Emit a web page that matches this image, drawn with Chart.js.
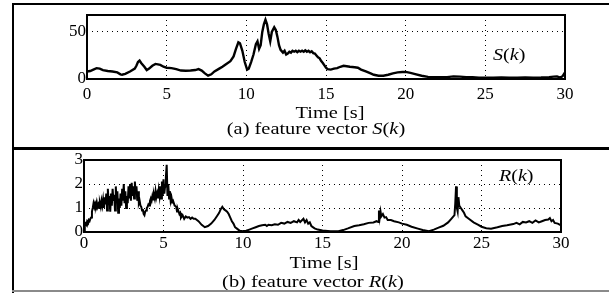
<!DOCTYPE html>
<html>
<head>
<meta charset="utf-8">
<script src="https://cdn.jsdelivr.net/npm/chart.js@4.4.1/dist/chart.umd.min.js"></script>
<style>
    html, body { margin: 0; padding: 0; background: #fff; }
    #page { position: relative; width: 609px; height: 293px; overflow: hidden; font-family: "Liberation Serif", "Times New Roman", serif; color: #000; }
    canvas { position: absolute; left: 0; }
    .rule { position: absolute; background: #000; z-index: 2; }
    .caption { position: absolute; font-size: 17px; white-space: nowrap; transform: translateX(-50%) scaleX(1.2); line-height: 1; }
    .tag { position: absolute; font-size: 17px; white-space: nowrap; line-height: 1; transform: scaleX(1.18); transform-origin: left center; }
    i { font-style: italic; }
</style>
</head>
<body>
<div id="page">
    <canvas id="chartS" width="609" height="148" style="top:0"></canvas>
    <canvas id="chartR" width="609" height="145" style="top:148px"></canvas>

    <div class="rule" style="left:12px; top:3px; width:597px; height:2px"></div>
    <div class="rule" style="left:12px; top:3px; width:2px; height:290px"></div>
    <div class="rule" style="left:12px; top:147px; width:597px; height:3px"></div>
    <div class="rule" style="left:12px; top:290px; width:597px; height:2px; background:#8a8a8a"></div>

    <div class="tag" style="left:493px; top:46px"><i>S</i>(<i>k</i>)</div>
    <div class="caption" style="left:330px; top:104px">Time [s]</div>
    <div class="caption" style="left:316px; top:120px">(a) feature vector <i>S</i>(<i>k</i>)</div>

    <div class="tag" style="left:499px; top:167px"><i>R</i>(<i>k</i>)</div>
    <div class="caption" style="left:324px; top:254px">Time [s]</div>
    <div class="caption" style="left:313px; top:273px">(b) feature vector <i>R</i>(<i>k</i>)</div>
</div>

<script>
// shared time axis
const xTicks = [0, 5, 10, 15, 20, 25, 30];

// (a) feature vector S(k)
const sTicks = [0, 50];
const sTime = [
    0.0, 0.2, 0.4, 0.6, 0.8, 1.0, 1.3, 1.6, 1.9, 2.1, 2.2, 2.4, 2.7, 3.0, 3.1, 3.2, 3.3, 3.4, 3.6, 3.75,
    3.9, 4.1, 4.3, 4.6, 4.8, 5.0, 5.3, 5.6, 5.9, 6.2, 6.5, 6.8, 7.0, 7.2, 7.4, 7.6, 7.8, 8.0, 8.3, 8.5,
    8.7, 9.0, 9.2, 9.35, 9.5, 9.6, 9.75, 9.9, 10.05, 10.15, 10.3, 10.45, 10.6, 10.7, 10.8, 10.9, 11.0, 11.1, 11.2, 11.3,
    11.4, 11.5, 11.6, 11.75, 11.85, 11.95, 12.05, 12.15, 12.3, 12.4, 12.5, 12.6, 12.7, 12.8, 12.9, 13.0, 13.1, 13.2, 13.3, 13.4,
    13.5, 13.6, 13.7, 13.8, 13.9, 14.0, 14.1, 14.2, 14.3, 14.4, 14.5, 14.6, 14.7, 14.8, 14.9, 15.0, 15.1, 15.3, 15.5, 15.7,
    15.9, 16.1, 16.3, 16.5, 16.8, 17.0, 17.2, 17.5, 17.8, 18.0, 18.3, 18.6, 18.9, 19.2, 19.5, 19.8, 20.0, 20.3, 20.6, 21.0,
    21.4, 21.8, 22.2, 22.6, 23.0, 23.4, 23.8, 24.2, 24.6, 25.0, 25.5, 26.0, 26.5, 27.0, 27.5, 28.0, 28.5, 29.0, 29.3, 29.5,
    29.7, 29.85, 30.0
];
const sVals = [
    8, 8.5, 10, 11.5, 11, 9.5, 8.5, 8, 7, 5, 4.5, 5.5, 8, 11, 14, 18, 19.5, 17, 13, 9.5,
    11, 14, 16, 15, 13, 12, 11.5, 10.5, 9, 8.8, 9, 9.5, 10.5, 9, 6, 3.5, 5, 8, 11, 13,
    15.5, 19, 24, 32, 39, 38, 30, 18, 10, 11, 18, 26, 37, 40, 32, 36, 50, 58, 63, 58,
    48, 40, 50, 55, 52, 45, 36, 31, 28, 30, 26, 27, 29, 28, 30, 29, 30, 28.5, 30, 29,
    30, 29, 30.5, 29, 30, 28.5, 29.5, 27.5, 27, 25, 23, 22, 19, 17, 14.5, 12, 10.5, 10, 11, 11.5,
    13, 14, 13.5, 13, 12.5, 12, 10, 8, 6, 4.5, 3.5, 3.5, 4.5, 6, 7, 7.5, 7.5, 6.5, 5.2, 3.5,
    2.2, 1.8, 2, 2, 2.8, 2.5, 2, 1.8, 1.4, 1.5, 1.4, 1.6, 1.5, 1.4, 1.6, 1.5, 1.6, 2, 2.5, 2.8,
    1.5, 3, 7
];

// (b) feature vector R(k)
const rTicks = [0, 1, 2, 3];
const rTime = [
    0.0, 0.05, 0.1, 0.15, 0.2, 0.25, 0.3, 0.35, 0.4, 0.45, 0.5, 0.55, 0.6, 0.65, 0.7, 0.75, 0.8, 0.85, 0.9, 0.95,
    1.0, 1.05, 1.1, 1.15, 1.2, 1.25, 1.3, 1.35, 1.4, 1.45, 1.5, 1.55, 1.6, 1.65, 1.7, 1.75, 1.8, 1.85, 1.9, 1.95,
    2.0, 2.05, 2.1, 2.15, 2.2, 2.25, 2.3, 2.35, 2.4, 2.45, 2.5, 2.55, 2.6, 2.65, 2.7, 2.75, 2.8, 2.85, 2.9, 2.95,
    3.0, 3.05, 3.1, 3.15, 3.2, 3.25, 3.3, 3.35, 3.4, 3.45, 3.5, 3.55, 3.6, 3.65, 3.7, 3.75, 3.8, 3.85, 3.9, 3.95,
    4.0, 4.05, 4.1, 4.15, 4.2, 4.25, 4.3, 4.35, 4.4, 4.45, 4.5, 4.55, 4.6, 4.65, 4.7, 4.75, 4.8, 4.85, 4.9, 4.95,
    5.0, 5.05, 5.1, 5.15, 5.2, 5.25, 5.3, 5.35, 5.4, 5.45, 5.5, 5.55, 5.6, 5.7, 5.8, 5.85, 5.9, 6.0, 6.05, 6.1,
    6.2, 6.3, 6.4, 6.5, 6.6, 6.7, 6.8, 6.9, 7.0, 7.2, 7.4, 7.6, 7.8, 8.0, 8.2, 8.4, 8.5, 8.6, 8.7, 8.8,
    8.9, 9.0, 9.1, 9.2, 9.3, 9.4, 9.5, 9.6, 9.7, 9.8, 10.0, 10.2, 10.4, 10.6, 10.8, 11.0, 11.2, 11.4, 11.5, 11.6,
    11.8, 12.0, 12.2, 12.4, 12.6, 12.8, 13.0, 13.2, 13.4, 13.5, 13.6, 13.8, 13.9, 14.0, 14.1, 14.2, 14.3, 14.5, 14.7, 15.0,
    15.5, 16.0, 16.3, 16.6, 17.0, 17.3, 17.6, 17.9, 18.2, 18.4, 18.5, 18.55, 18.6, 18.65, 18.7, 18.8, 18.9, 19.0, 19.1, 19.3,
    19.5, 19.8, 20.0, 20.3, 20.6, 21.0, 21.3, 21.7, 22.0, 22.3, 22.6, 22.9, 23.1, 23.3, 23.35, 23.4, 23.45, 23.5, 23.55, 23.6,
    23.7, 23.8, 23.9, 24.0, 24.2, 24.5, 24.8, 25.0, 25.3, 25.6, 26.0, 26.3, 26.6, 27.0, 27.2, 27.4, 27.6, 27.8, 28.0, 28.2,
    28.4, 28.6, 28.8, 29.0, 29.2, 29.3, 29.4, 29.5, 29.6, 29.8, 30.0
];
const rVals = [
    0.05, 0.25, 0.35, 0.3, 0.45, 0.4, 0.5, 0.45, 0.55, 0.6, 0.85, 1.0, 1.2, 1.05, 1.2, 1.1, 1.25, 1.05, 1.15, 1.0,
    1.2, 1.05, 1.3, 1.1, 1.35, 1.0, 1.45, 1.15, 1.6, 0.9, 1.8, 1.2, 1.5, 0.85, 1.6, 1.1, 1.8, 1.3, 1.55, 0.9,
    1.9, 1.2, 1.7, 0.8, 1.4, 1.0, 1.6, 1.1, 1.8, 1.3, 2.0, 1.2, 1.7, 1.0, 1.5, 1.2, 1.9, 1.4, 2.0, 1.3,
    2.05, 1.5, 1.9, 1.4, 2.1, 1.6, 1.9, 1.3, 1.7, 1.2, 1.3, 1.1, 1.05, 0.9, 0.95, 0.75, 0.7, 0.85, 0.9, 1.0,
    1.05, 1.15, 1.1, 1.3, 1.4, 1.3, 1.5, 1.35, 1.55, 1.4, 1.7, 1.45, 1.6, 1.4, 1.75, 1.5, 1.9, 1.4, 2.1, 1.5,
    2.2, 1.6, 1.9, 2.3, 2.8, 1.5, 2.0, 1.4, 1.7, 1.3, 1.45, 1.25, 1.3, 1.1, 1.05, 0.85, 0.95, 0.75, 0.8, 0.6,
    0.7, 0.55, 0.65, 0.6, 0.62, 0.55, 0.6, 0.55, 0.55, 0.45, 0.3, 0.2, 0.25, 0.35, 0.5, 0.7, 0.8, 0.95, 1.05, 0.95,
    0.9, 0.85, 0.75, 0.6, 0.45, 0.35, 0.2, 0.15, 0.1, 0.05, 0.03, 0.05, 0.1, 0.15, 0.2, 0.25, 0.28, 0.3, 0.25, 0.3,
    0.28, 0.32, 0.3, 0.38, 0.35, 0.42, 0.38, 0.45, 0.4, 0.5, 0.42, 0.55, 0.4, 0.5, 0.35, 0.4, 0.25, 0.15, 0.1, 0.06,
    0.03, 0.03, 0.08, 0.15, 0.25, 0.28, 0.32, 0.38, 0.4, 0.45, 0.42, 0.9, 0.6, 0.85, 0.65, 0.75, 0.6, 0.62, 0.5, 0.5,
    0.45, 0.4, 0.35, 0.3, 0.22, 0.14, 0.08, 0.03, 0.1, 0.18, 0.26, 0.4, 0.55, 0.7, 1.2, 1.9, 1.0, 0.85, 1.45, 1.1,
    1.0, 0.9, 0.8, 0.65, 0.55, 0.4, 0.3, 0.22, 0.16, 0.14, 0.2, 0.25, 0.28, 0.33, 0.38, 0.32, 0.42, 0.4, 0.45, 0.38,
    0.48, 0.4, 0.45, 0.5, 0.52, 0.58, 0.45, 0.5, 0.38, 0.35, 0.28
];

// black frame round the plot area
const frameBox = {
    id: 'frameBox',
    afterDraw(chart) {
        const { ctx, chartArea: a } = chart;
        ctx.save();
        ctx.strokeStyle = '#000';
        ctx.lineWidth = 2;
        ctx.strokeRect(a.left, a.top, a.right - a.left, a.bottom - a.top);
        ctx.restore();
    }
};

function makeChart(id, times, vals, yTicks, yMax, box) {
    const canvas = document.getElementById(id);
    const tickFont = { family: '"Liberation Serif", serif', size: 17 };
    return new Chart(canvas, {
        type: 'line',
        data: {
            datasets: [{
                data: times.map((t, i) => ({ x: t, y: vals[i] })),
                borderColor: '#000',
                borderWidth: box.line,
                pointRadius: 0,
                tension: 0,
                fill: false
            }]
        },
        options: {
            responsive: false,
            animation: false,
            events: [],
            layout: { padding: { top: box.top, right: canvas.width - box.right, left: 0, bottom: 0 } },
            plugins: { legend: { display: false }, tooltip: { enabled: false } },
            scales: {
                x: {
                    type: 'linear',
                    min: 0,
                    max: 30,
                    afterBuildTicks: s => { s.ticks = xTicks.map(v => ({ value: v })); },
                    afterFit: s => { s.height = canvas.height - box.bottom; },
                    ticks: { font: tickFont, color: '#000', padding: box.tickPad, maxRotation: 0, autoSkip: false },
                    grid: { color: '#000', lineWidth: 1, drawTicks: false },
                    border: { display: false, dash: [1, 4] }
                },
                y: {
                    min: 0,
                    max: yMax,
                    afterBuildTicks: s => { s.ticks = yTicks.map(v => ({ value: v })); },
                    afterFit: s => { s.width = box.left; },
                    ticks: { font: tickFont, color: '#000', padding: 1 },
                    grid: { color: '#000', lineWidth: 1, drawTicks: false },
                    border: { display: false, dash: [1, 4] }
                }
            }
        },
        plugins: [frameBox]
    });
}

makeChart('chartS', sTime, sVals, sTicks, 68, { left: 87, right: 565, top: 15, bottom: 79, tickPad: 5, line: 2.4 });
makeChart('chartR', rTime, rVals, rTicks, 3, { left: 84, right: 561, top: 12, bottom: 84, tickPad: 1, line: 2 });
</script>
</body>
</html>
